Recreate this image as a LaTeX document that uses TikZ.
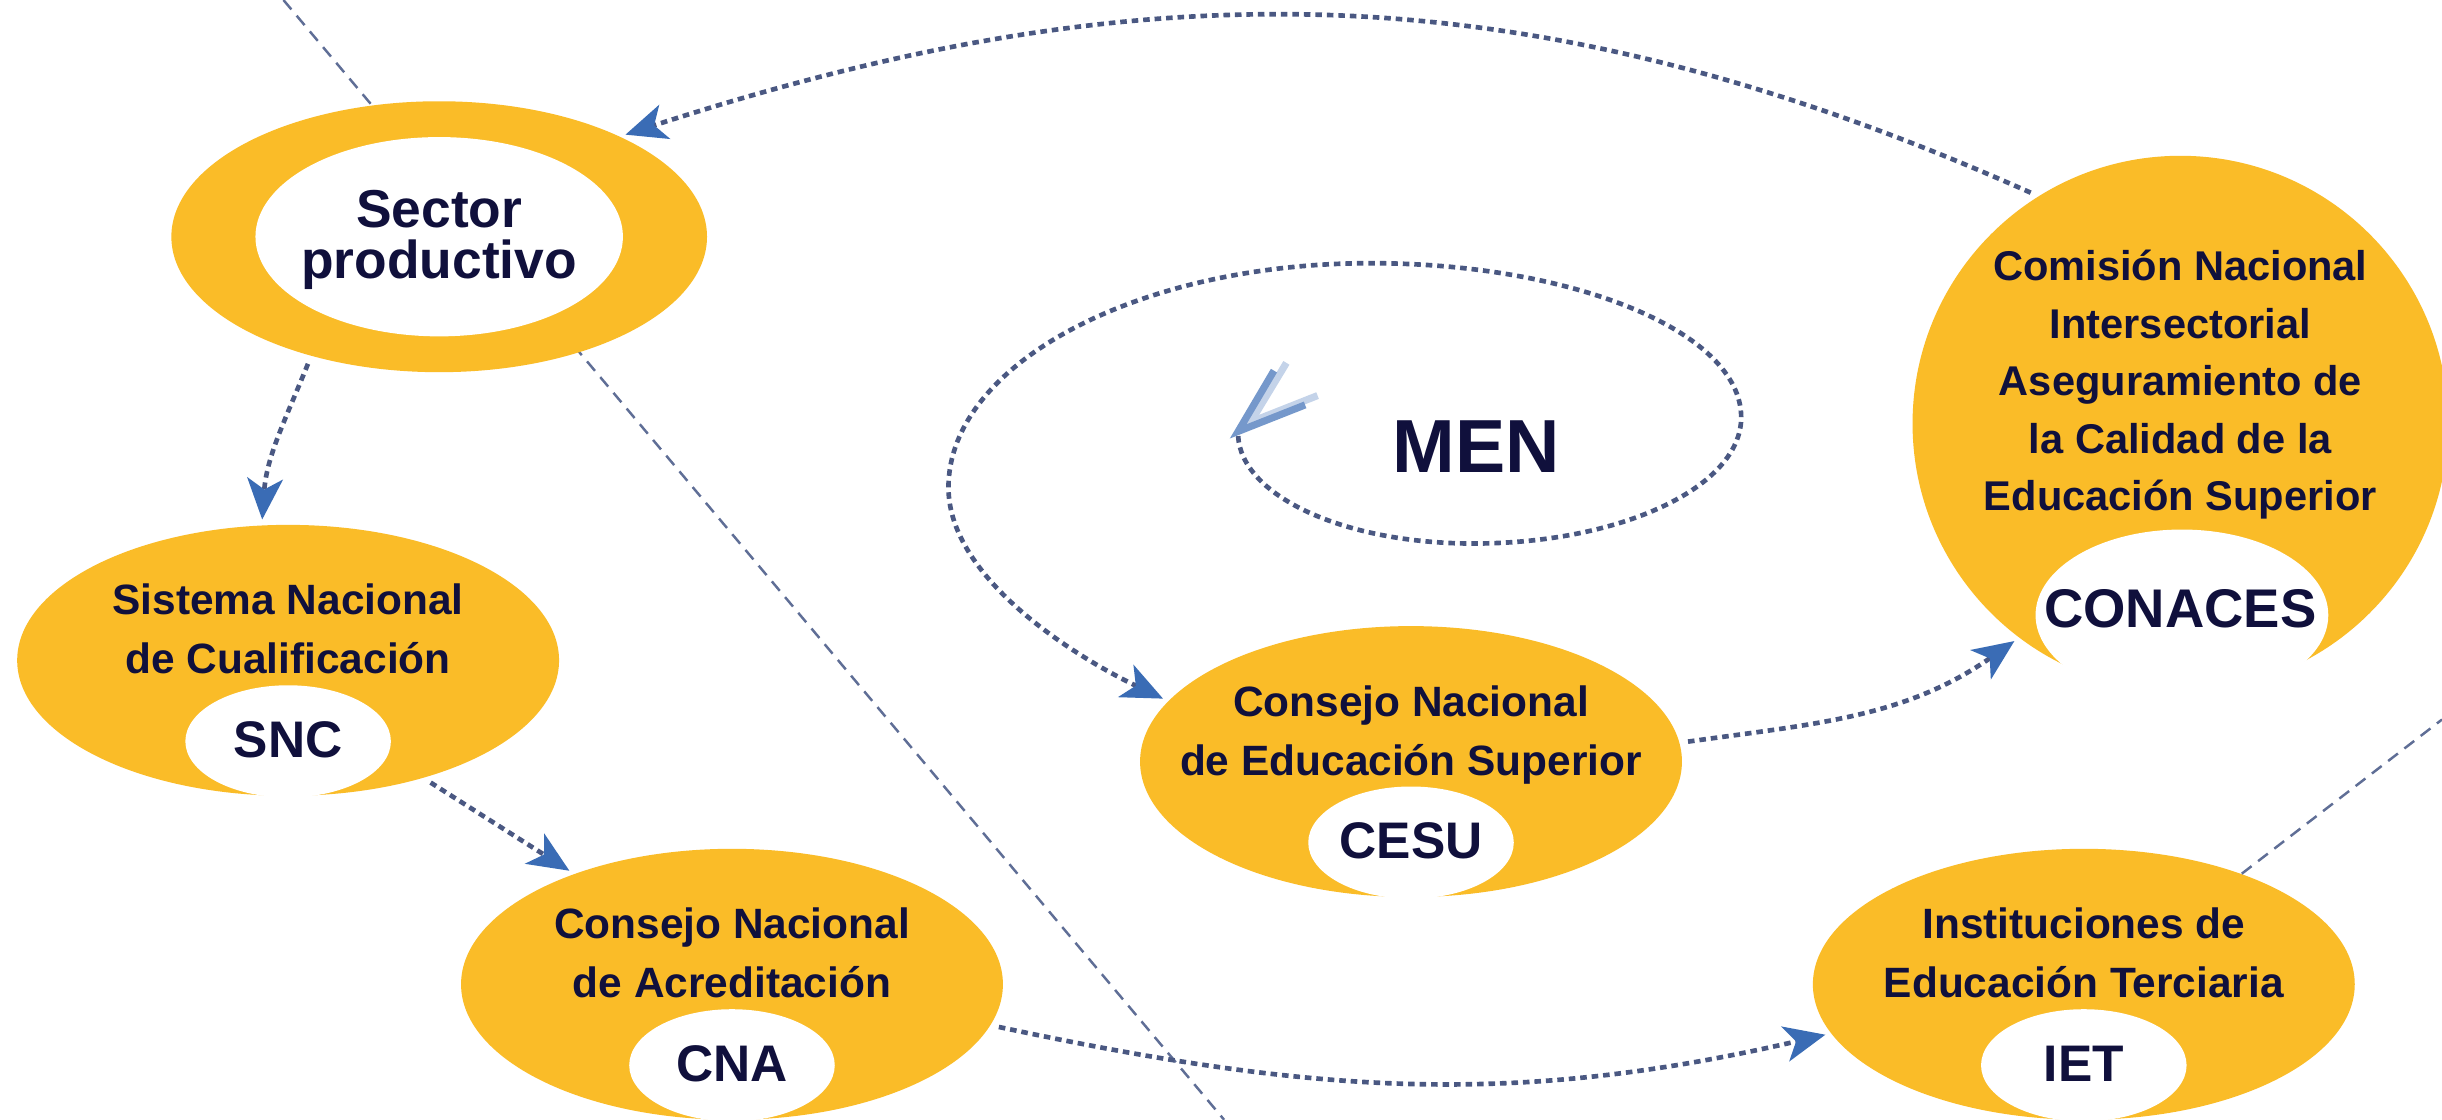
\documentclass[tikz,border=0pt]{standalone}
\usepackage{fontspec}
\setmainfont{Liberation Sans}
\usetikzlibrary{shapes.geometric,arrows.meta}

\definecolor{gold}{RGB}{250,188,40}
\definecolor{ink}{RGB}{16,16,60}
\definecolor{dots}{RGB}{74,88,130}
\definecolor{tipblue}{RGB}{58,108,181}
\definecolor{thinline}{RGB}{95,110,150}

\tikzset{
  org/.style={ellipse, fill=gold, inner sep=0pt, minimum width=6.96cm, minimum height=3.48cm},
  hole/.style={ellipse, fill=white, inner sep=0pt, minimum width=2.64cm, minimum height=1.44cm},
  orgtitle/.style={text=ink, align=center, inner sep=0pt, font=\bfseries\fontsize{15.5}{21.6}\selectfont},
  orgabbr/.style={text=ink, inner sep=0pt, font=\bfseries\fontsize{18.8}{18.8}\selectfont},
  dotflow/.style={draw=dots, line width=1.7pt, dash pattern=on 2.4pt off 1.8pt,
    -{Stealth[length=15pt,width=13pt,inset=4pt,color=tipblue]}, shorten <=3pt, shorten >=2pt},
  divider/.style={draw=thinline, line width=0.9pt, dash pattern=on 4.5pt off 3pt},
  chevron/.style={line width=2.6pt, line join=miter, line cap=butt}
}

\begin{document}
\begin{tikzpicture}[x=0.02cm, y=-0.02cm]
  \fill[white] (0,0) rectangle (1568,719);
  \useasboundingbox (0,0) rectangle (1568,719);

  % dividing line behind the nodes
  \coordinate (cut-top) at (182,0);
  \coordinate (cut-bot) at (786,719);
  \draw[divider] (cut-top) -- (cut-bot);

  % Draw nodes
  \node[org, minimum width=6.88cm] (sector) at (282,152) {};
  \node[hole, minimum width=4.72cm, minimum height=2.56cm] (sector-in) at (282,152) {};
  \node[text=ink, align=center, inner sep=0pt, font=\bfseries\fontsize{19.5}{18.8}\selectfont] (sector-txt) at (282,154) {Sector\\productivo};

  \node[org] (snc) at (185,424) {};
  \node[hole] (snc-in) at (185,476) {};
  \node[orgtitle] (snc-txt) at (185,404) {Sistema Nacional\\de Cualificación};
  \node[orgabbr] (snc-ab) at (185,475) {SNC};

  \node[org] (cna) at (470,632) {};
  \node[hole] (cna-in) at (470,684) {};
  \node[orgtitle] (cna-txt) at (470,612) {Consejo Nacional\\de Acreditación};
  \node[orgabbr] (cna-ab) at (470,683) {CNA};

  \node[org] (cesu) at (906,489) {};
  \node[hole] (cesu-in) at (906,541) {};
  \node[orgtitle] (cesu-txt) at (906,472) {Consejo Nacional\\de Educación Superior};
  \node[orgabbr] (cesu-ab) at (906,540) {CESU};

  \node[org] (iet) at (1338,632) {};
  \node[hole] (iet-in) at (1338,684) {};
  \node[orgtitle] (iet-txt) at (1338,612) {Instituciones de\\Educación Terciaria};
  \node[orgabbr] (iet-ab) at (1338,683) {IET};

  \node[org, circle, minimum size=6.88cm] (conaces) at (1400,272) {};
  \node[hole, minimum width=3.76cm, minimum height=2.2cm] (conaces-in) at (1401,395) {};
  \node[orgtitle, font=\bfseries\fontsize{15.2}{21}\selectfont] (conaces-txt) at (1400,247)
    {Comisión Nacional\\Intersectorial\\Aseguramiento de\\la Calidad de la\\Educación Superior};
  \node[orgabbr, font=\bfseries\fontsize{19.9}{19.9}\selectfont] (conaces-ab) at (1400,391) {CONACES};

  \node[text=ink, inner sep=0pt, font=\bfseries\fontsize{27.5}{27.5}\selectfont] (men) at (948,287) {MEN};

  % line leaving IET
  \coordinate (edge-r) at (1568,462);
  \draw[divider] (iet.35) -- (edge-r);

  % Draw arrows
  \draw[dotflow] (conaces.122) to[out=156,in=18] (sector.29);
  \draw[dotflow] (sector.223) to[out=248,in=86] (snc.101);
  \draw[dotflow] (snc.-41) -- (cna.145);
  \draw[dotflow] (cna.-9) to[out=-12,in=193] (iet.-169);
  \draw[dotflow] (cesu.4) to[out=8,in=215] (conaces.-127);

  % spiral round MEN
  \coordinate (men-start) at (795,280);
  \draw[chevron, tipblue!30] (826,233) -- (803,271) -- (846,254);
  \draw[chevron, tipblue!70] (818,238) -- (795,277) -- (838,260);
  \draw[dotflow, shorten <=0pt] (men-start)
    .. controls (797,318) and (862,349) .. (946,349)
    .. controls (1040,349) and (1118,313) .. (1118,268)
    .. controls (1118,213) and (1010,169) .. (880,169)
    .. controls (730,169) and (609,234) .. (609,313)
    .. controls (609,373) and (695,424) .. (cesu.166);
\end{tikzpicture}
\end{document}
